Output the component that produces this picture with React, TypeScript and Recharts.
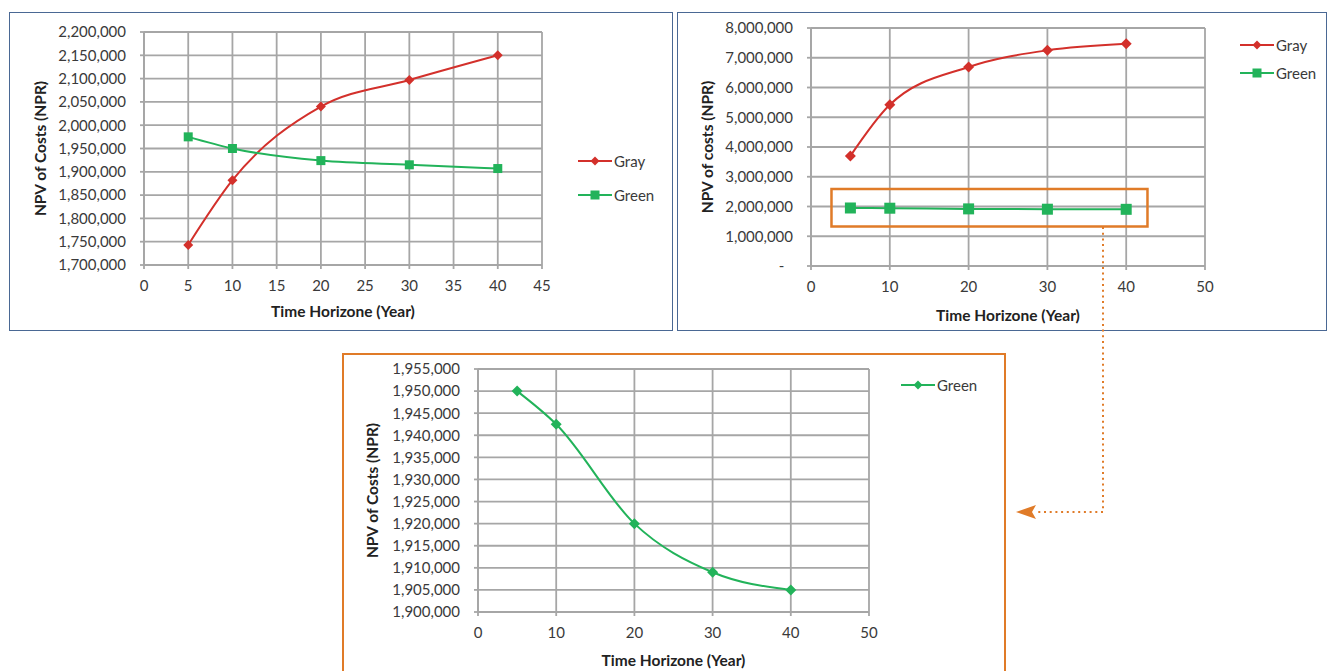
import React from 'react';
import { LineChart, Line, XAxis, YAxis, CartesianGrid, Legend, ReferenceArea } from 'recharts';

// years on the time horizon
const years = [5, 10, 20, 30, 40];

// top-left chart
const grayCost = [1743000, 1882000, 2040000, 2097000, 2150000];
const greenCost = [1975000, 1950000, 1924000, 1915000, 1907000];
const xTicks45 = [0, 5, 10, 15, 20, 25, 30, 35, 40, 45];
const yTicksCost = [1700000, 1750000, 1800000, 1850000, 1900000, 1950000, 2000000, 2050000, 2100000, 2150000, 2200000];

// top-right chart
const grayLong = [3700000, 5420000, 6690000, 7250000, 7470000];
const greenLong = [1950000, 1942500, 1920000, 1909000, 1905000];
const xTicks50 = [0, 10, 20, 30, 40, 50];
const yTicksLong = [0, 1000000, 2000000, 3000000, 4000000, 5000000, 6000000, 7000000, 8000000];
const highlightX = [2.6, 42.7];
const highlightY = [1330000, 2590000];

// bottom (zoomed) chart
const greenZoom = [1950000, 1942500, 1920000, 1909000, 1905000];
const yTicksZoom = [1900000, 1905000, 1910000, 1915000, 1920000, 1925000, 1930000, 1935000, 1940000, 1945000, 1950000, 1955000];

const RED = '#d3302b';
const GREEN = '#22b35a';
const ORANGE = '#e07b28';
const GRID = '#a6a6a6';
const TEXT = '#3a3a3a';

const costData = years.map((y, i) => ({ year: y, gray: grayCost[i], green: greenCost[i] }));
const longData = years.map((y, i) => ({ year: y, gray: grayLong[i], green: greenLong[i] }));
const zoomData = years.map((y, i) => ({ year: y, green: greenZoom[i] }));

const fmt = (v: number) => v.toLocaleString('en-US');
const fmtDash = (v: number) => (v === 0 ? '-\u2007' : v.toLocaleString('en-US'));

const diamond = (color: string, r: number) => (p: any) => (
  <path key={p.index} d={`M${p.cx},${p.cy - r}L${p.cx + r},${p.cy}L${p.cx},${p.cy + r}L${p.cx - r},${p.cy}Z`} fill={color} />
);
const square = (color: string, h: number) => (p: any) => (
  <rect key={p.index} x={p.cx - h} y={p.cy - h} width={h * 2} height={h * 2} fill={color} />
);

const yTitle = (text: string, dx: number) => (props: any) => {
  const vb = props.viewBox || { x: 0, y: 0, height: 0 };
  const cx = vb.x + dx;
  const cy = vb.y + vb.height / 2;
  return (
    <text x={cx} y={cy} transform={`rotate(-90, ${cx}, ${cy})`} textAnchor="middle" dominantBaseline="central"
      fill="#222" fontWeight="bold" fontSize={15.5}>{text}</text>
  );
};
const xTitle = (text: string, dy: number) => (props: any) => {
  const vb = props.viewBox || { x: 0, y: 0, width: 0 };
  return (
    <text x={vb.x + vb.width / 2} y={vb.y + dy} textAnchor="middle" dominantBaseline="central"
      fill="#222" fontWeight="bold" fontSize={15.5}>{text}</text>
  );
};

type Item = { name: string; color: string; shape: 'diamond' | 'square' };

function LegendBox({ items, gap }: { items: Item[]; gap: number }) {
  return (
    <div>
      {items.map((it, i) => (
        <div key={it.name} style={{ display: 'flex', alignItems: 'center', height: 16, marginTop: i ? gap - 16 : 0 }}>
          <svg width={35} height={16}>
            <line x1={0} y1={8} x2={34} y2={8} stroke={it.color} strokeWidth={2} />
            {it.shape === 'diamond'
              ? <path d="M17,3.5L21.5,8L17,12.5L12.5,8Z" fill={it.color} />
              : <rect x={12.5} y={3.5} width={9} height={9} fill={it.color} />}
          </svg>
          <span style={{ fontSize: 15, color: TEXT, marginLeft: 1, lineHeight: '16px' }}>{it.name}</span>
        </div>
      ))}
    </div>
  );
}

const tickStyle = { fill: TEXT, fontSize: 15 };

export default function App() {
  return (
    <div style={{ position: 'absolute', left: 0, top: 0, width: 1328, height: 671, overflow: 'hidden', background: '#fff', fontFamily: 'Lato, sans-serif' }}>
      {/* panel frames */}
      <div style={{ position: 'absolute', left: 9, top: 12, width: 662, height: 317, border: '1.5px solid #4a6894' }} />
      <div style={{ position: 'absolute', left: 677, top: 12, width: 648, height: 317, border: '1.5px solid #4a6894' }} />
      <div style={{ position: 'absolute', left: 342, top: 353, width: 660, height: 340, border: '2.5px solid ' + ORANGE }} />

      {/* top-left */}
      <div style={{ position: 'absolute', left: 10, top: 12 }}>
        <LineChart width={662} height={319} data={costData} margin={{ top: 20, right: 130, bottom: 36, left: 0 }}>
          <CartesianGrid stroke={GRID} strokeWidth={1.8} />
          <XAxis dataKey="year" type="number" domain={[0, 45]} ticks={xTicks45} interval={0}
            stroke={GRID} strokeWidth={1.8} tickSize={4} tickMargin={11} tick={tickStyle} height={30}
            label={xTitle('Time Horizone (Year)', 46)} />
          <YAxis type="number" domain={[1700000, 2200000]} ticks={yTicksCost} interval={0} tickFormatter={fmt}
            stroke={GRID} strokeWidth={1.8} tickSize={4} tickMargin={14} tick={tickStyle} width={134}
            label={yTitle('NPV of Costs (NPR)', 30)} />
          <Line type="monotone" dataKey="gray" name="Gray" stroke={RED} strokeWidth={2} dot={diamond(RED, 5)} isAnimationActive={false} />
          <Line type="monotone" dataKey="green" name="Green" stroke={GREEN} strokeWidth={2} dot={square(GREEN, 4.5)} isAnimationActive={false} />
          <Legend layout="vertical" align="center" verticalAlign="middle"
            wrapperStyle={{ left: 568, top: 141, width: 'auto', height: 'auto' }}
            content={() => <LegendBox gap={33.6} items={[{ name: 'Gray', color: RED, shape: 'diamond' }, { name: 'Green', color: GREEN, shape: 'square' }]} />} />
        </LineChart>
      </div>

      {/* top-right */}
      <div style={{ position: 'absolute', left: 677, top: 12 }}>
        <LineChart width={650} height={319} data={longData} margin={{ top: 16, right: 122, bottom: 35, left: 0 }}>
          <CartesianGrid stroke={GRID} strokeWidth={1.8} />
          <XAxis dataKey="year" type="number" domain={[0, 50]} ticks={xTicks50} interval={0}
            stroke={GRID} strokeWidth={1.8} tickSize={4} tickMargin={11} tick={tickStyle} height={30}
            label={xTitle('Time Horizone (Year)', 49)} />
          <YAxis type="number" domain={[0, 8000000]} ticks={yTicksLong} interval={0} tickFormatter={fmtDash}
            stroke={GRID} strokeWidth={1.8} tickSize={4} tickMargin={14} tick={tickStyle} width={134}
            label={yTitle('NPV of costs (NPR)', 30)} />
          <ReferenceArea x1={highlightX[0]} x2={highlightX[1]} y1={highlightY[0]} y2={highlightY[1]}
            fill="none" stroke={ORANGE} strokeWidth={2.5} strokeOpacity={1} ifOverflow="visible" />
          <Line type="monotone" dataKey="gray" name="Gray" stroke={RED} strokeWidth={2} dot={diamond(RED, 5.5)} isAnimationActive={false} />
          <Line type="monotone" dataKey="green" name="Green" stroke={GREEN} strokeWidth={2} dot={square(GREEN, 5.5)} isAnimationActive={false} />
          <Legend layout="vertical" align="center" verticalAlign="middle"
            wrapperStyle={{ left: 563, top: 25, width: 'auto', height: 'auto' }}
            content={() => <LegendBox gap={27.7} items={[{ name: 'Gray', color: RED, shape: 'diamond' }, { name: 'Green', color: GREEN, shape: 'square' }]} />} />
        </LineChart>
      </div>

      {/* bottom zoom */}
      <div style={{ position: 'absolute', left: 343, top: 354 }}>
        <LineChart width={662} height={317} data={zoomData} margin={{ top: 15, right: 136, bottom: 29, left: 0 }}>
          <CartesianGrid stroke={GRID} strokeWidth={1.8} />
          <XAxis dataKey="year" type="number" domain={[0, 50]} ticks={xTicks50} interval={0}
            stroke={GRID} strokeWidth={1.8} tickSize={4} tickMargin={11} tick={tickStyle} height={30}
            label={xTitle('Time Horizone (Year)', 48)} />
          <YAxis type="number" domain={[1900000, 1955000]} ticks={yTicksZoom} interval={0} tickFormatter={fmt}
            stroke={GRID} strokeWidth={1.8} tickSize={4} tickMargin={14} tick={tickStyle} width={135}
            label={yTitle('NPV of Costs (NPR)', 29)} />
          <Line type="monotone" dataKey="green" name="Green" stroke={GREEN} strokeWidth={2} dot={diamond(GREEN, 5.5)} isAnimationActive={false} />
          <Legend layout="vertical" align="center" verticalAlign="middle"
            wrapperStyle={{ left: 558, top: 23, width: 'auto', height: 'auto' }}
            content={() => <LegendBox gap={30} items={[{ name: 'Green', color: GREEN, shape: 'diamond' }]} />} />
        </LineChart>
      </div>

      {/* dotted callout arrow */}
      <svg width={1328} height={671} style={{ position: 'absolute', left: 0, top: 0, pointerEvents: 'none' }}>
        <polyline points="1103,227 1103,512 1037,512" fill="none" stroke={ORANGE} strokeWidth={2} strokeDasharray="2 3.7" />
        <polygon points="1016,512 1036,505 1032,512 1036,519" fill={ORANGE} />
      </svg>
    </div>
  );
}
